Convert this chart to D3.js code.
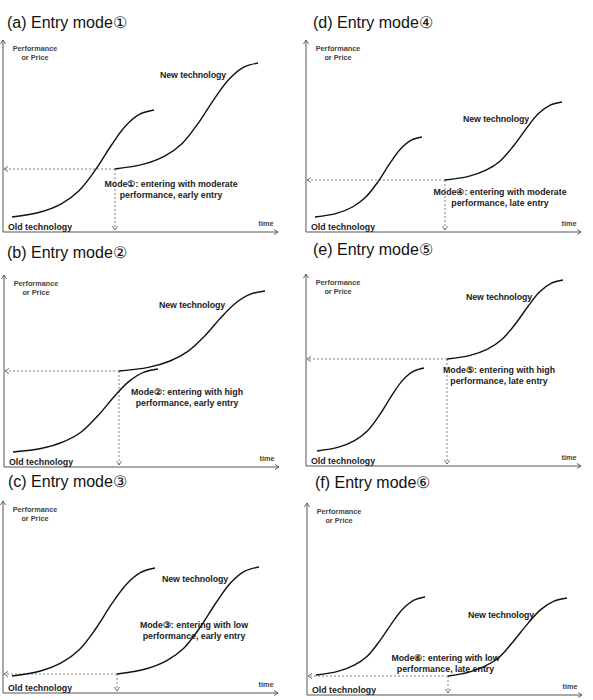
<!DOCTYPE html>
<html>
<head>
<meta charset="utf-8">
<script src="https://cdn.jsdelivr.net/npm/d3@7"></script>
<style>
  body { margin: 0; background: #fff; }
  svg { display: block; font-family: "Liberation Sans", Arial, sans-serif; }
</style>
</head>
<body>
<div id="chart"></div>
<script>
// panel order: a, b, c, d, e, f
const panelTitles = ["(a) Entry mode①", "(b) Entry mode②", "(c) Entry mode③",
  "(d) Entry mode④", "(e) Entry mode⑤", "(f) Entry mode⑥"];
const modeLine1 = ["Mode①: entering with moderate", "Mode②: entering with high",
  "Mode③: entering with low", "Mode④: entering with moderate",
  "Mode⑤: entering with high", "Mode⑥: entering with low"];
const modeLine2 = ["performance, early entry", "performance, early entry",
  "performance, early entry", "performance, late entry",
  "performance, late entry", "performance, late entry"];

// old technology S-curve (time, performance)
const oldTime = [
  [3.6, 15, 23.5, 30.3, 37.1, 43.4, 49, 54.7, 60.4],
  [3.6, 15.2, 23.9, 30.9, 37.8, 44.2, 50, 55.8, 61.6],
  [3.6, 15, 23.6, 30.5, 37.3, 43.6, 49.4, 55.1, 60.8],
  [3.6, 12.2, 18.6, 23.7, 28.9, 33.6, 37.8, 42.1, 46.4],
  [4.4, 13, 19.4, 24.5, 29.7, 34.4, 38.6, 42.9, 47.2],
  [3.6, 12.3, 18.9, 24.1, 29.3, 34.1, 38.5, 42.8, 47.2]
];
const oldPerf = [
  [7.5, 10, 14.2, 20.5, 31.3, 43.5, 53, 58.9, 61],
  [7.5, 9.4, 12.7, 17.5, 26, 35.4, 42.8, 47.3, 49],
  [8.5, 11, 15.3, 21.6, 32.5, 44.8, 54.4, 60.3, 62.5],
  [7.5, 9.3, 12.5, 17.2, 25.3, 34.4, 41.5, 45.9, 47.5],
  [7.5, 9.4, 12.7, 17.5, 26, 35.4, 42.8, 47.3, 49],
  [10, 11.8, 14.9, 19.4, 27.4, 36.2, 43.2, 47.4, 49]
];
// new technology S-curve, first point is the entry point
const newTime = [
  [44.8, 56.2, 64.8, 71.7, 78.5, 84.8, 90.6, 96.3, 102],
  [46, 57.7, 66.4, 73.4, 80.5, 86.9, 92.7, 98.6, 104.4],
  [45.6, 57, 65.5, 72.3, 79.1, 85.4, 91, 96.7, 102.4],
  [55.6, 65, 72, 77.6, 83.2, 88.4, 93, 97.7, 102.4],
  [56.4, 65.7, 72.6, 78.2, 83.8, 88.9, 93.5, 98.2, 102.8],
  [56.4, 64.5, 71.2, 76.9, 82.6, 88.3, 93.5, 98.8, 104]
];
const newPerf = [
  [31.5, 33.9, 38.1, 44.3, 55.1, 67.1, 76.6, 82.4, 84.5],
  [48, 49.8, 53, 57.7, 65.8, 74.9, 82, 86.4, 88],
  [9.5, 12, 16.2, 22.4, 33.3, 45.5, 55, 60.9, 63],
  [26, 27.8, 30.9, 35.4, 43.4, 52.2, 59.2, 63.4, 65],
  [53.5, 55.3, 58.4, 63.1, 71.1, 80, 87.1, 91.4, 93],
  [9.5, 11.3, 14.4, 18.9, 26.9, 35.7, 42.7, 46.9, 48.5]
];

// layout (pixels): axis origin and title baseline per panel
const panelOrigin = [[3, 232], [4, 467], [3, 693], [306, 232], [306, 466], [307, 695]];
const titlePos = [[7, 28], [7, 258], [8, 487], [313, 28], [313, 255], [315, 488]];
// label anchors in data units
const newLabelPos = [[62.8, 77], [62, 79.5], [63.6, 55.5], [62.8, 55], [64, 83], [64.4, 38.5]];
const modeLabelPos = [[67.2, 22.5], [73.2, 36], [76.4, 32.5], [77.6, 18.5], [77.2, 46.5], [55.4, 17]];

const svg = d3.select("#chart").append("svg")
  .attr("width", 593).attr("height", 700);

function chevron(g, x, y, angle, color) {
  g.append("path")
    .attr("d", "M-4,-2.6L0,0L-4,2.6")
    .attr("transform", `translate(${x},${y}) rotate(${angle})`)
    .attr("fill", "none")
    .attr("stroke", color)
    .attr("stroke-width", 0.9);
}

panelTitles.forEach((title, i) => {
  const [ox, oy] = panelOrigin[i];
  const x = d3.scaleLinear().domain([0, 110]).range([ox, ox + 275]);
  const y = d3.scaleLinear().domain([0, 96]).range([oy, oy - 192]);
  const g = svg.append("g");

  g.append("text")
    .attr("x", titlePos[i][0]).attr("y", titlePos[i][1])
    .style("font-size", "16px").attr("fill", "#111")
    .text(title);

  // axes
  const axisColor = "#555";
  g.append("line")
    .attr("x1", x(0)).attr("x2", x(0)).attr("y1", y(0)).attr("y2", y(96))
    .attr("stroke", axisColor).attr("stroke-width", 1);
  g.append("line")
    .attr("x1", x(0)).attr("x2", x(110)).attr("y1", y(0)).attr("y2", y(0))
    .attr("stroke", axisColor).attr("stroke-width", 1);
  chevron(g, x(0), y(96), -90, axisColor);
  chevron(g, x(110), y(0), 0, axisColor);

  g.append("text")
    .attr("x", x(0) + 32).attr("y", y(96) + 11)
    .attr("text-anchor", "middle")
    .style("font-size", "7.3px").style("font-weight", "bold").attr("fill", "#444")
    .text("Performance");
  g.append("text")
    .attr("x", x(0) + 32).attr("y", y(96) + 20)
    .attr("text-anchor", "middle")
    .style("font-size", "7.3px").style("font-weight", "bold").attr("fill", "#444")
    .text("or Price");
  g.append("text")
    .attr("x", x(0) + 263).attr("y", y(0) - 6)
    .attr("text-anchor", "middle")
    .style("font-size", "7.3px").style("font-weight", "bold").attr("fill", "#444")
    .text("time");
  g.append("text")
    .attr("x", x(0) + 5).attr("y", y(0) - 2)
    .style("font-size", "8.8px").style("font-weight", "bold").attr("fill", "#222")
    .text("Old technology");

  // dashed guides from the entry point
  const et = newTime[i][0], ep = newPerf[i][0];
  const dashColor = "#666";
  g.append("line")
    .attr("x1", x(et)).attr("x2", x(0) + 1).attr("y1", y(ep)).attr("y2", y(ep))
    .attr("stroke", dashColor).attr("stroke-width", 0.8).attr("stroke-dasharray", "2,2");
  g.append("line")
    .attr("x1", x(et)).attr("x2", x(et)).attr("y1", y(ep)).attr("y2", y(0) - 2)
    .attr("stroke", dashColor).attr("stroke-width", 0.8).attr("stroke-dasharray", "2,2");
  chevron(g, x(0) + 1, y(ep), 180, dashColor);
  chevron(g, x(et), y(0) - 2, 90, dashColor);

  // labels
  g.append("text")
    .attr("x", x(newLabelPos[i][0])).attr("y", y(newLabelPos[i][1]))
    .style("font-size", "8.8px").style("font-weight", "bold").attr("fill", "#222")
    .style("letter-spacing", "-0.1px")
    .text("New technology");
  const mx = x(modeLabelPos[i][0]), my = y(modeLabelPos[i][1]);
  g.append("text")
    .attr("x", mx).attr("y", my).attr("text-anchor", "middle")
    .style("font-size", "8.8px").style("font-weight", "bold").attr("fill", "#222")
    .text(modeLine1[i]);
  g.append("text")
    .attr("x", mx).attr("y", my + 10.5).attr("text-anchor", "middle")
    .style("font-size", "8.8px").style("font-weight", "bold").attr("fill", "#222")
    .text(modeLine2[i]);

  // curves
  const line = d3.line()
    .x((d) => x(d[0]))
    .y((d) => y(d[1]))
    .curve(d3.curveCatmullRom.alpha(0.5));
  const oldPts = oldTime[i].map((t, k) => [t, oldPerf[i][k]]);
  const newPts = newTime[i].map((t, k) => [t, newPerf[i][k]]);
  [oldPts, newPts].forEach((pts) => {
    g.append("path")
      .attr("d", line(pts))
      .attr("fill", "none")
      .attr("stroke", "#111")
      .attr("stroke-width", 1.4);
  });
});
</script>
</body>
</html>
